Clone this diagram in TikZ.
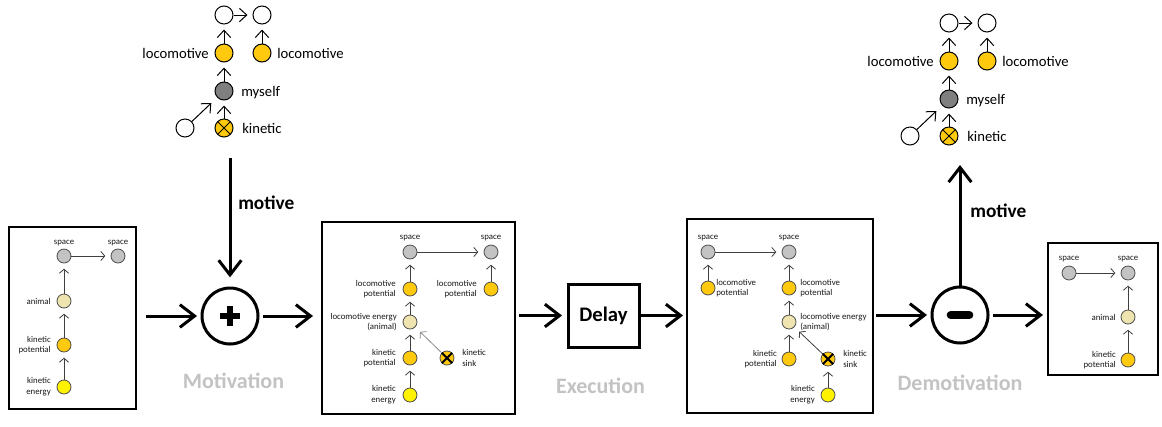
\documentclass[tikz,border=0pt]{standalone}
\usepackage{fontspec}
\setmainfont{Carlito}
\usetikzlibrary{arrows.meta}
\definecolor{paintgray}{RGB}{195,195,195}
\definecolor{painttan}{RGB}{239,228,176}
\definecolor{paintgold}{RGB}{255,201,14}
\definecolor{paintyellow}{RGB}{255,242,0}
\definecolor{paintdark}{RGB}{127,127,127}
\definecolor{paintlight}{RGB}{195,195,195}
\begin{document}
\begin{tikzpicture}[x=0.75pt,y=-0.75pt,
  panel/.style={draw=black, line width=0.8pt, inner sep=0, outer sep=0},
  dot/.style={circle, draw=black!70, line width=0.6pt, minimum size=10.5pt, inner sep=0},
  gdot/.style={dot, fill=paintgray},
  adot/.style={dot, fill=painttan},
  odot/.style={dot, fill=paintgold},
  ydot/.style={dot, fill=paintyellow},
  tdot/.style={circle, draw=black, line width=0.75pt, minimum size=13.5pt, inner sep=0},
  wdot/.style={tdot, fill=white},
  tgold/.style={tdot, fill=paintgold},
  tmy/.style={tdot, fill=paintdark},
  lbl/.style={font=\fontsize{6.6}{8}\selectfont, inner sep=0, text=black!90},
  tlbl/.style={font=\fontsize{11}{13}\selectfont, inner sep=0, text depth=0pt},
  thin/.style={draw=black!75, line width=0.6pt, -{Straight Barb[length=3pt,width=7pt]}, shorten >=4pt},
  light/.style={thin, draw=black!45},
  tarr/.style={draw=black, line width=0.75pt, -{Straight Barb[length=5.5pt,width=10pt]}, shorten >=3.75pt},
  flow/.style={draw=black, line width=2.25pt, -{Straight Barb[length=11pt,width=17pt]}},
  op/.style={circle, draw=black, line width=2.25pt, minimum size=42pt, inner sep=0, outer sep=0},
  stage/.style={font=\bfseries\fontsize{16.5}{20}\selectfont, text=paintlight, inner sep=0},
  mot/.style={font=\bfseries\fontsize{14.5}{17}\selectfont, inner sep=0, anchor=west},
]
\path[fill=white] (0,0) rectangle (1162,426);
\useasboundingbox (0,0) rectangle (1162,426);

% ---------- Panel 1 ----------
\node[panel, minimum width=95.25pt, minimum height=136.5pt] (box1) at (72.5,318) {};
\node[gdot] (b1s1) at (64,256) {};
\node[gdot] (b1s2) at (118,256) {};
\node[adot] (b1a) at (64,301) {};
\node[odot] (b1kp) at (64,345) {};
\node[ydot] (b1ke) at (64,387) {};
\node[lbl] at (64,243) {space};
\node[lbl] at (118,243) {space};
\node[lbl, anchor=east] at (51,301) {animal};
\node[lbl, anchor=east, align=right] at (51,345) {kinetic\\potential};
\node[lbl, anchor=east, align=right] at (51,387) {kinetic\\energy};
\draw[thin] (b1s1) -- (b1s2);
\draw[thin] (b1a) -- (b1s1);
\draw[thin] (b1kp) -- (b1a);
\draw[thin] (b1ke) -- (b1kp);

% ---------- Panel 2 ----------
\node[panel, minimum width=144.75pt, minimum height=144pt] (box2) at (418.5,318) {};
\node[gdot] (b2s1) at (410,252) {};
\node[gdot] (b2s2) at (491,252) {};
\node[odot] (b2lpl) at (410,289) {};
\node[odot] (b2lpr) at (491,289) {};
\node[adot] (b2le) at (410,322) {};
\node[odot] (b2kp) at (410,358) {};
\node[ydot] (b2ke) at (410,395) {};
\node[odot] (b2sk) at (447,358) {};
\draw[line width=1.4pt] (b2sk.north west) -- (b2sk.south east) (b2sk.north east) -- (b2sk.south west);
\node[lbl] at (410,238) {space};
\node[lbl] at (491,238) {space};
\node[lbl, anchor=east, align=right] at (396,289) {locomotive\\potential};
\node[lbl, anchor=east, align=right] at (477,289) {locomotive\\potential};
\node[lbl, anchor=east, align=right] at (397,322) {locomotive energy\\(animal)};
\node[lbl, anchor=east, align=right] at (396,358) {kinetic\\potential};
\node[lbl, anchor=east, align=right] at (396,395) {kinetic\\energy};
\node[lbl, anchor=west, align=left] at (462,358) {kinetic\\sink};
\draw[thin] (b2s1) -- (b2s2);
\draw[thin] (b2lpl) -- (b2s1);
\draw[thin] (b2lpr) -- (b2s2);
\draw[thin] (b2le) -- (b2lpl);
\draw[thin] (b2kp) -- (b2le);
\draw[thin] (b2ke) -- (b2kp);
\draw[light, shorten >=5pt] (b2sk) -- (b2le);

% ---------- Panel 3 ----------
\node[panel, minimum width=139.5pt, minimum height=145.5pt] (box3) at (780,316) {};
\node[gdot] (b3s1) at (708,252) {};
\node[gdot] (b3s2) at (789,252) {};
\node[odot] (b3lpl) at (708,288) {};
\node[odot] (b3lpr) at (789,288) {};
\node[adot] (b3le) at (789,322) {};
\node[odot] (b3kp) at (789,359) {};
\node[odot] (b3sk) at (828,359) {};
\node[ydot] (b3ke) at (828,395) {};
\draw[line width=1.4pt] (b3sk.north west) -- (b3sk.south east) (b3sk.north east) -- (b3sk.south west);
\node[lbl] at (708,238) {space};
\node[lbl] at (789,238) {space};
\node[lbl, anchor=west, align=left] at (716,288) {locomotive\\potential};
\node[lbl, anchor=west, align=left] at (800,288) {locomotive\\potential};
\node[lbl, anchor=west, align=left] at (800,322) {locomotive energy\\(animal)};
\node[lbl, anchor=east, align=right] at (777,359) {kinetic\\potential};
\node[lbl, anchor=west, align=left] at (843,359) {kinetic\\sink};
\node[lbl, anchor=east, align=right] at (815,395) {kinetic\\energy};
\draw[thin] (b3s1) -- (b3s2);
\draw[thin] (b3lpl) -- (b3s1);
\draw[thin] (b3lpr) -- (b3s2);
\draw[thin] (b3le) -- (b3lpr);
\draw[thin] (b3kp) -- (b3le);
\draw[thin, shorten >=5pt] (b3sk) -- (b3le);
\draw[thin] (b3ke) -- (b3sk);

% ---------- Panel 4 ----------
\node[panel, minimum width=82.5pt, minimum height=99pt] (box4) at (1103,309) {};
\node[gdot] (b4s1) at (1069,273) {};
\node[gdot] (b4s2) at (1128,273) {};
\node[adot] (b4a) at (1128,317) {};
\node[odot] (b4kp) at (1128,360) {};
\node[lbl] at (1069,259) {space};
\node[lbl] at (1128,259) {space};
\node[lbl, anchor=east] at (1116,317) {animal};
\node[lbl, anchor=east, align=right] at (1116,360) {kinetic\\potential};
\draw[thin] (b4s1) -- (b4s2);
\draw[thin] (b4a) -- (b4s2);
\draw[thin] (b4kp) -- (b4a);

% ---------- Operators ----------
\node[op] (plus) at (230,316) {};
\draw[line width=4pt] ([xshift=-7.5pt]plus.center) -- ([xshift=7.5pt]plus.center)
  ([yshift=7.5pt]plus.center) -- ([yshift=-7.5pt]plus.center);
\node[draw=black, line width=2.25pt, minimum width=53.25pt, minimum height=47.25pt,
  inner sep=0, outer sep=0, font=\bfseries\fontsize{15.5}{18}\selectfont] (delay) at (603.5,315.5) {Delay};
\node[op] (minus) at (960,315) {};
\draw[line width=6pt, line cap=round] ([xshift=-7pt]minus.center) -- ([xshift=7pt]minus.center);

\draw[flow, shorten <=7.5pt, shorten >=3.75pt] (box1.east |- plus.west) -- (plus.west);
\draw[flow, shorten <=3.75pt, shorten >=6.75pt] (plus.east) -- (plus.east -| box2.west);
\draw[flow, shorten <=3pt, shorten >=4.5pt] (box2.east |- delay.west) -- (delay.west);
\draw[flow, shorten >=3pt] (delay.east) -- (delay.east -| box3.west);
\draw[flow, shorten <=2.25pt, shorten >=3.75pt] (box3.east |- minus.west) -- (minus.west);
\draw[flow, shorten <=3.75pt, shorten >=3.75pt] (minus.east) -- (minus.east -| box4.west);

\coordinate (mstart) at (230,158);
\coordinate (mend) at (960,165);
\draw[flow, shorten >=8pt] (mstart) -- (plus.north);
\draw[flow] (minus.north) -- (mend);
\node[mot] at (238,203) {motive};
\node[mot] at (970,211) {motive};

\node[stage] at (233.5,381) {Motivation};
\node[stage] at (600.5,386) {Execution};
\node[stage] at (960,383) {Demotivation};

% ---------- Top-left motive graph ----------
\node[wdot] (a1) at (224,15) {};
\node[wdot] (a2) at (262,15) {};
\node[tgold] (al) at (224,53) {};
\node[tgold] (ar) at (262,53) {};
\node[tmy] (am) at (224,91) {};
\node[tgold] (ak) at (224,128) {};
\node[wdot] (aw) at (185,128) {};
\draw[line width=0.6pt] (ak.north west) -- (ak.south east) (ak.north east) -- (ak.south west);
\node[tlbl, anchor=east] at (209,53) {locomotive};
\node[tlbl, anchor=west] at (277,53) {locomotive};
\node[tlbl, anchor=west] at (241,91) {myself};
\node[tlbl, anchor=west] at (242,128) {kinetic};
\draw[tarr] (a1) -- (a2);
\draw[tarr] (al) -- (a1);
\draw[tarr] (ar) -- (a2);
\draw[tarr] (am) -- (al);
\draw[tarr] (ak) -- (am);
\draw[tarr, shorten >=6pt] (aw) -- (am);

% ---------- Top-right motive graph ----------
\node[wdot] (c1) at (949,23) {};
\node[wdot] (c2) at (987,23) {};
\node[tgold] (cl) at (949,61) {};
\node[tgold] (cr) at (987,61) {};
\node[tmy] (cm) at (949,99) {};
\node[tgold] (ck) at (949,136) {};
\node[wdot] (cw) at (910,136) {};
\draw[line width=0.6pt] (ck.north west) -- (ck.south east) (ck.north east) -- (ck.south west);
\node[tlbl, anchor=east] at (934,61) {locomotive};
\node[tlbl, anchor=west] at (1002,61) {locomotive};
\node[tlbl, anchor=west] at (966,99) {myself};
\node[tlbl, anchor=west] at (967,136) {kinetic};
\draw[tarr] (c1) -- (c2);
\draw[tarr] (cl) -- (c1);
\draw[tarr] (cr) -- (c2);
\draw[tarr] (cm) -- (cl);
\draw[tarr] (ck) -- (cm);
\draw[tarr, shorten >=6pt] (cw) -- (cm);
\end{tikzpicture}
\end{document}
